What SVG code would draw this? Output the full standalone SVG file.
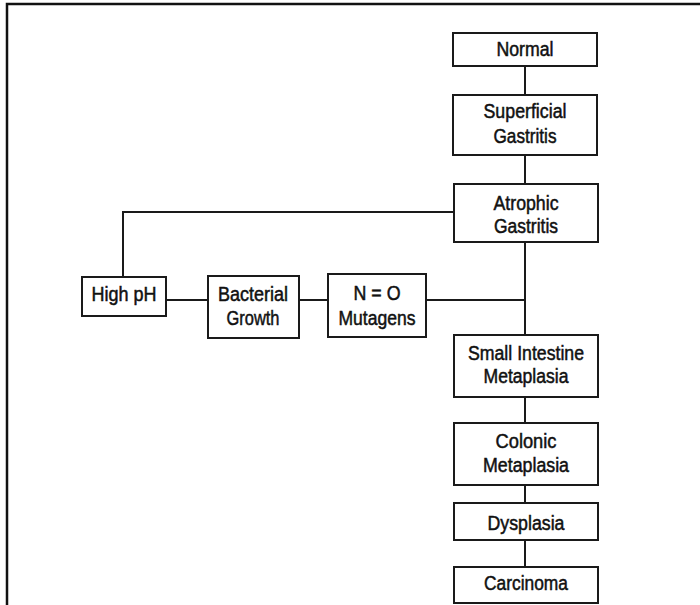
<svg xmlns="http://www.w3.org/2000/svg" width="700" height="605" viewBox="0 0 700 605">
<style>
.box{fill:#fff;stroke:#1a1a1a;stroke-width:2}
.ln{fill:none;stroke:#1a1a1a;stroke-width:2}
.frame{fill:none;stroke:#111;stroke-width:2.5}
text{font-family:"Liberation Sans",Arial,sans-serif;font-size:20px;fill:#111;stroke:#111;stroke-width:0.5;text-anchor:middle}
</style>
<rect width="700" height="605" fill="#fff"/>
<path class="frame" d="M7,605 V4 H700"/>
<g id="connectors">
<path class="ln" d="M525,66 V95"/>
<path class="ln" d="M525,155 V184"/>
<path class="ln" d="M525,242 V335"/>
<path class="ln" d="M426,300 H525"/>
<path class="ln" d="M454,212 H123 V277"/>
<path class="ln" d="M166,300 H208"/>
<path class="ln" d="M299,300 H328"/>
<path class="ln" d="M525,397 V423"/>
<path class="ln" d="M525,485 V503"/>
<path class="ln" d="M525,540 V567"/>
</g>
<g id="normal"><rect class="box" x="453" y="33" width="144" height="33"/><text x="525" y="56" textLength="57" lengthAdjust="spacingAndGlyphs">Normal</text></g>
<g id="superficial"><rect class="box" x="453" y="95" width="144" height="60"/><text x="525" y="118" textLength="83" lengthAdjust="spacingAndGlyphs">Superficial</text><text x="525" y="143" textLength="63" lengthAdjust="spacingAndGlyphs">Gastritis</text></g>
<g id="atrophic"><rect class="box" x="454" y="184" width="144" height="58"/><text x="526" y="210" textLength="65" lengthAdjust="spacingAndGlyphs">Atrophic</text><text x="526" y="233" textLength="64" lengthAdjust="spacingAndGlyphs">Gastritis</text></g>
<g id="highph"><rect class="box" x="82" y="277" width="84" height="39"/><text x="124" y="301" textLength="65" lengthAdjust="spacingAndGlyphs">High pH</text></g>
<g id="bacterial"><rect class="box" x="208" y="276" width="91" height="62"/><text x="253" y="301" textLength="70" lengthAdjust="spacingAndGlyphs">Bacterial</text><text x="253" y="325" textLength="53" lengthAdjust="spacingAndGlyphs">Growth</text></g>
<g id="mutagens"><rect class="box" x="328" y="274" width="98" height="63"/><text x="377" y="300" textLength="47" lengthAdjust="spacingAndGlyphs">N = O</text><text x="377" y="325" textLength="77" lengthAdjust="spacingAndGlyphs">Mutagens</text></g>
<g id="small-intestine"><rect class="box" x="454" y="335" width="144" height="62"/><text x="526" y="360" textLength="116" lengthAdjust="spacingAndGlyphs">Small Intestine</text><text x="526" y="383" textLength="85" lengthAdjust="spacingAndGlyphs">Metaplasia</text></g>
<g id="colonic"><rect class="box" x="454" y="423" width="144" height="62"/><text x="526" y="448" textLength="61" lengthAdjust="spacingAndGlyphs">Colonic</text><text x="526" y="472" textLength="86" lengthAdjust="spacingAndGlyphs">Metaplasia</text></g>
<g id="dysplasia"><rect class="box" x="454" y="503" width="144" height="37"/><text x="526" y="530" textLength="77" lengthAdjust="spacingAndGlyphs">Dysplasia</text></g>
<g id="carcinoma"><rect class="box" x="454" y="567" width="144" height="36"/><text x="526" y="590" textLength="84" lengthAdjust="spacingAndGlyphs">Carcinoma</text></g>
</svg>
